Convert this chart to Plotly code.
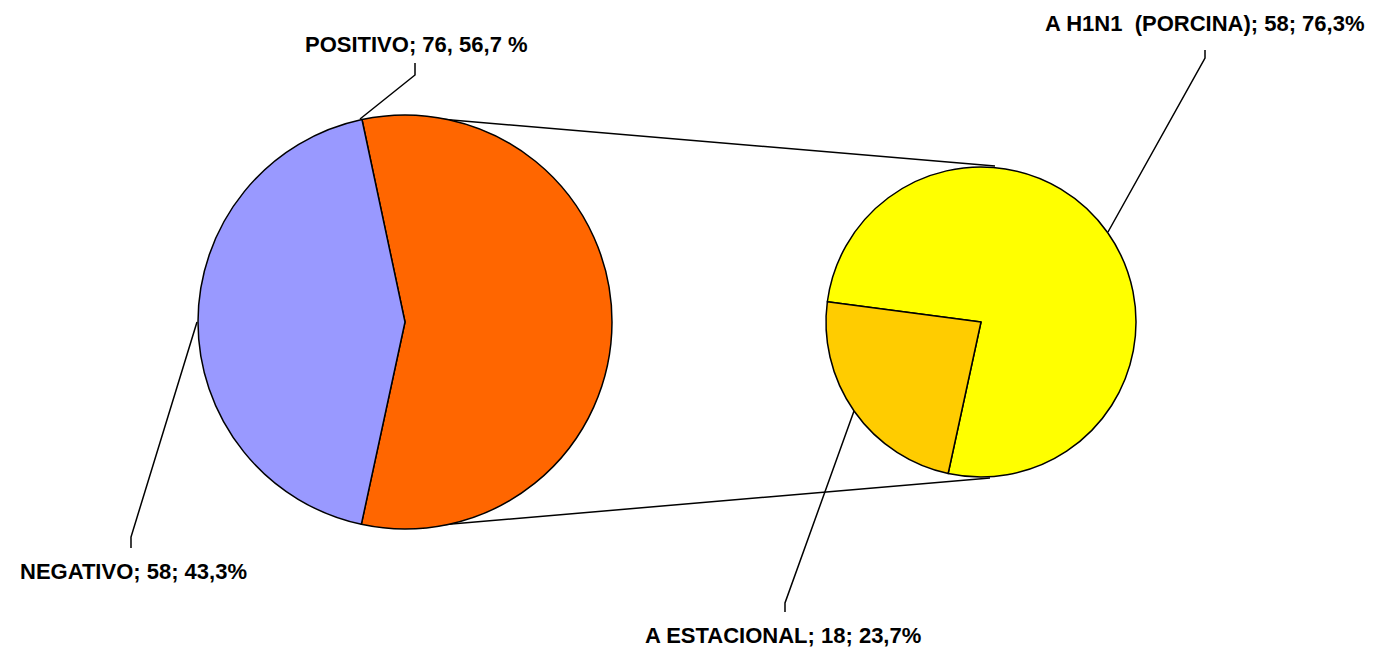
import plotly.graph_objects as go

W, H = 1376, 649

# ---- data ----
main_labels = ["POSITIVO", "NEGATIVO"]
main_values = [76, 58]
main_colors = ["#FF6600", "#9999FF"]

sub_labels = ["A H1N1 (PORCINA)", "A ESTACIONAL"]
sub_values = [58, 18]
sub_colors = ["#FFFF00", "#FFCC00"]

label_texts = ["POSITIVO; 76, 56,7 %", "NEGATIVO; 58; 43,3%",
               "A H1N1  (PORCINA); 58; 76,3%", "A ESTACIONAL; 18; 23,7%"]


def px(x):
    return x / W


def py(y):
    return 1 - y / H


# pie geometry (pixels)
L_CX, L_CY, L_R = 405, 322, 207
R_CX, R_CY, R_R = 981, 322, 155

fig = go.Figure()
fig.add_trace(go.Pie(
    labels=main_labels, values=main_values, sort=False, direction="clockwise",
    rotation=-12, textinfo="none", hoverinfo="label+value+percent",
    marker=dict(colors=main_colors, line=dict(color="black", width=1.5)),
    domain=dict(x=[px(L_CX - L_R), px(L_CX + L_R)], y=[py(L_CY + L_R), py(L_CY - L_R)]),
    showlegend=False,
))
fig.add_trace(go.Pie(
    labels=sub_labels, values=sub_values, sort=False, direction="clockwise",
    rotation=277.5, textinfo="none", hoverinfo="label+value+percent",
    marker=dict(colors=sub_colors, line=dict(color="black", width=1.5)),
    domain=dict(x=[px(R_CX - R_R), px(R_CX + R_R)], y=[py(R_CY + R_R), py(R_CY - R_R)]),
    showlegend=False,
))


def path(points):
    s = "M " + " L ".join(f"{px(x):.5f},{py(y):.5f}" for x, y in points)
    return s


line_paths = [
    [(405, 116), (995, 166)],
    [(405, 528), (990, 478)],
    [(360, 119), (415, 75), (415, 63)],
    [(197, 322), (131, 537), (131, 548)],
    [(1108, 232), (1205, 58), (1205, 50)],
    [(854, 411), (785, 603), (785, 612)],
]
shapes = [dict(type="path", path=path(p), xref="paper", yref="paper",
               line=dict(color="black", width=1.5), layer="below")
          for p in line_paths]

label_pos = [(416, 44), (133, 571), (1204, 24), (783, 635)]
annotations = [dict(text=t, x=px(x), y=py(y), xref="paper", yref="paper",
                    xanchor="center", yanchor="middle", showarrow=False,
                    font=dict(family="Liberation Sans, Arial, sans-serif", size=22,
                              color="black", weight="bold"))
               for t, (x, y) in zip(label_texts, label_pos)]

fig.update_layout(
    width=W, height=H, margin=dict(l=0, r=0, t=0, b=0),
    paper_bgcolor="white", plot_bgcolor="white",
    shapes=shapes, annotations=annotations, showlegend=False,
)

fig.write_html("out.html", config={"displayModeBar": False},
               post_script="document.body.style.margin='0';")
